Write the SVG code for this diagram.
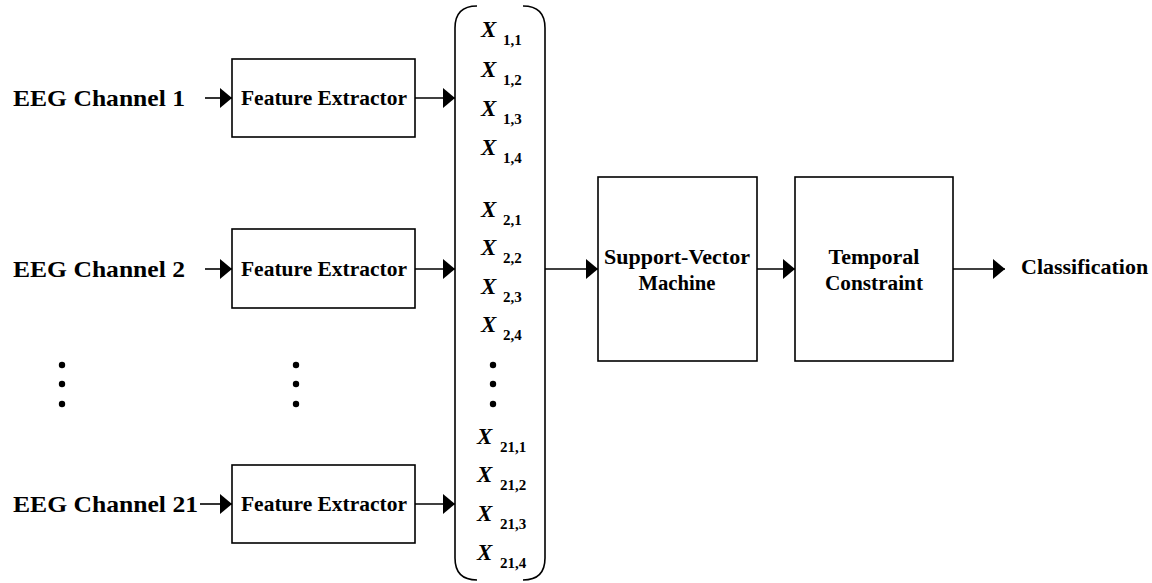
<svg xmlns="http://www.w3.org/2000/svg" width="1152" height="583" viewBox="0 0 1152 583">
  <defs>
    <marker id="ah" viewBox="0 0 12 20" markerWidth="12" markerHeight="20" refX="12" refY="10" orient="auto" markerUnits="userSpaceOnUse">
      <path d="M0,0 L12,10 L0,20 Z" fill="#000"/>
    </marker>
    <style>
      .box { fill: #fff; stroke: #000; stroke-width: 1.6; }
      .edge { fill: none; stroke: #000; stroke-width: 1.6; marker-end: url(#ah); }
      .br { fill: none; stroke: #000; stroke-width: 1.6; }
      text { font-family: 'Times New Roman', 'Liberation Serif', serif; fill: #000; }
      .lbl { font-weight: bold; }
      .ch { font-size: 24px; }
      .fe { font-size: 20px; text-anchor: middle; }
      .bk { font-size: 20px; text-anchor: middle; }
      .x { font-weight: bold; font-style: italic; font-size: 23px; }
      .sub { font-weight: bold; font-size: 15px; }
      .dot { fill: #000; }
    </style>
  </defs>

  <g id="ch1"><text class="lbl ch" x="13" y="106" textLength="172" lengthAdjust="spacingAndGlyphs">EEG Channel 1</text></g>
  <g id="ch2"><text class="lbl ch" x="13" y="277" textLength="172" lengthAdjust="spacingAndGlyphs">EEG Channel 2</text></g>
  <g id="ch21"><text class="lbl ch" x="13" y="512" textLength="185" lengthAdjust="spacingAndGlyphs">EEG Channel 21</text></g>

  <g id="fe1"><rect class="box" x="232" y="59" width="183" height="78"/><text class="lbl fe" x="324" y="105" textLength="166" lengthAdjust="spacingAndGlyphs">Feature Extractor</text></g>
  <g id="fe2"><rect class="box" x="232" y="229" width="183" height="79"/><text class="lbl fe" x="324" y="276" textLength="166" lengthAdjust="spacingAndGlyphs">Feature Extractor</text></g>
  <g id="fe21"><rect class="box" x="232" y="465" width="183" height="78"/><text class="lbl fe" x="324" y="511" textLength="166" lengthAdjust="spacingAndGlyphs">Feature Extractor</text></g>

  <g id="dots-left">
    <circle class="dot" cx="62" cy="365" r="3.2"/><circle class="dot" cx="62" cy="384" r="3.2"/><circle class="dot" cx="62" cy="404" r="3.2"/>
  </g>
  <g id="dots-mid">
    <circle class="dot" cx="296" cy="365" r="3.2"/><circle class="dot" cx="296" cy="384" r="3.2"/><circle class="dot" cx="296" cy="404" r="3.2"/>
  </g>

  <g id="feature-vector">
    <path class="br" d="M477,6 Q455,6 455,28 L455,558 Q455,580 477,580"/>
    <path class="br" d="M523,6 Q545,6 545,28 L545,558 Q545,580 523,580"/>
    <text class="x" x="481" y="37">X</text><text class="sub" x="503" y="45">1,1</text>
    <text class="x" x="481" y="77">X</text><text class="sub" x="503" y="85">1,2</text>
    <text class="x" x="481" y="116">X</text><text class="sub" x="503" y="124">1,3</text>
    <text class="x" x="481" y="155">X</text><text class="sub" x="503" y="163">1,4</text>
    <text class="x" x="481" y="217">X</text><text class="sub" x="503" y="225">2,1</text>
    <text class="x" x="481" y="255">X</text><text class="sub" x="503" y="263">2,2</text>
    <text class="x" x="481" y="294">X</text><text class="sub" x="503" y="302">2,3</text>
    <text class="x" x="481" y="332">X</text><text class="sub" x="503" y="340">2,4</text>
    <circle class="dot" cx="493" cy="365" r="3.2"/><circle class="dot" cx="493" cy="384" r="3.2"/><circle class="dot" cx="493" cy="404" r="3.2"/>
    <text class="x" x="477" y="444">X</text><text class="sub" x="500" y="452">21,1</text>
    <text class="x" x="477" y="482">X</text><text class="sub" x="500" y="490">21,2</text>
    <text class="x" x="477" y="521">X</text><text class="sub" x="500" y="529">21,3</text>
    <text class="x" x="477" y="560">X</text><text class="sub" x="500" y="568">21,4</text>
  </g>

  <g id="svm"><rect class="box" x="598" y="177" width="159" height="184"/>
    <text class="lbl bk" x="677" y="264" textLength="146" lengthAdjust="spacingAndGlyphs">Support-Vector</text>
    <text class="lbl bk" x="677" y="290" textLength="77" lengthAdjust="spacingAndGlyphs">Machine</text>
  </g>
  <g id="temporal"><rect class="box" x="795" y="177" width="158" height="184"/>
    <text class="lbl bk" x="874" y="264" textLength="91" lengthAdjust="spacingAndGlyphs">Temporal</text>
    <text class="lbl bk" x="874" y="290" textLength="98" lengthAdjust="spacingAndGlyphs">Constraint</text>
  </g>
  <g id="classification"><text class="lbl" style="font-size:22px" x="1021" y="274">Classification</text></g>

  <g id="connectors">
    <line class="edge" x1="205" y1="98" x2="232" y2="98"/>
    <line class="edge" x1="205" y1="269" x2="232" y2="269"/>
    <line class="edge" x1="200" y1="504" x2="232" y2="504"/>
    <line class="edge" x1="415" y1="98" x2="455" y2="98"/>
    <line class="edge" x1="415" y1="269" x2="455" y2="269"/>
    <line class="edge" x1="415" y1="504" x2="455" y2="504"/>
    <line class="edge" x1="545" y1="269" x2="598" y2="269"/>
    <line class="edge" x1="757" y1="269" x2="795" y2="269"/>
    <line class="edge" x1="953" y1="269" x2="1005" y2="269"/>
  </g>
</svg>
